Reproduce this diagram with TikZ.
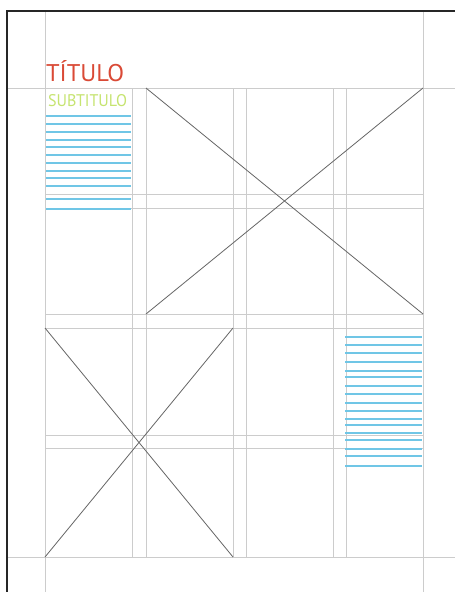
\documentclass[tikz,border=0pt]{standalone}
\usepackage{fontspec}
\setsansfont{PT Sans}
\usepackage{xcolor}
\usepackage{graphicx}
\definecolor{titred}{RGB}{218,74,54}
\definecolor{subgreen}{RGB}{198,228,112}
\definecolor{penblue}{RGB}{112,198,230}
\newcommand{\gvert}[3]{\draw[gray!40,line width=0.35mm] (#1,#2) -- (#1,#3);}
\newcommand{\ghorz}[3]{\draw[gray!40,line width=0.35mm] (#2,#1) -- (#3,#1);}
\newcommand{\gcross}[4]{%
  \draw[black!60,line width=0.4mm] (#1,#2) -- (#3,#4);
  \draw[black!60,line width=0.4mm] (#3,#2) -- (#1,#4);}
\newcommand{\gblue}[3]{%
  \foreach \y in {#3}{\draw[penblue,line width=0.6mm] (#1,\y) -- (#2,\y);}}

\begin{document}
\begin{tikzpicture}[x=0.5mm,y=-0.5mm]
  \useasboundingbox[fill=white] (0,0) rectangle (455,592);
  % grid
  \gvert{45}{11}{592} \gvert{423}{11}{592}
  \foreach \x in {132,146,233,246,333,346}{\gvert{\x}{88}{557}}
  \ghorz{88}{7}{455} \ghorz{557}{7}{455}
  \foreach \y in {194,208,314,328,435,448}{\ghorz{\y}{45}{423}}
  % image boxes
  \gcross{146}{88}{423}{314}
  \gcross{45}{328}{233}{557}
  % text lines
  \gblue{46}{131}{116,124,132,140,147,155,163,171,178,186,199,209}
  \gblue{345}{422}{337,345,353,362,371,377,386,394,403,411,419,425,433,440,449,456,466}
  % sheet edge
  \draw[black!85,line width=0.8mm] (7,592) -- (7,11) -- (455,11);
  \node[inner sep=0,anchor=south west,text=titred] (titulo) at (46,81.5)
    {\sffamily\resizebox{39mm}{10.5mm}{TÍTULO}};
  \node[inner sep=0,anchor=south west,text=subgreen] (subtitulo) at (48,107)
    {\sffamily\resizebox{39.5mm}{6mm}{SUBTITULO}};
\end{tikzpicture}
\end{document}
